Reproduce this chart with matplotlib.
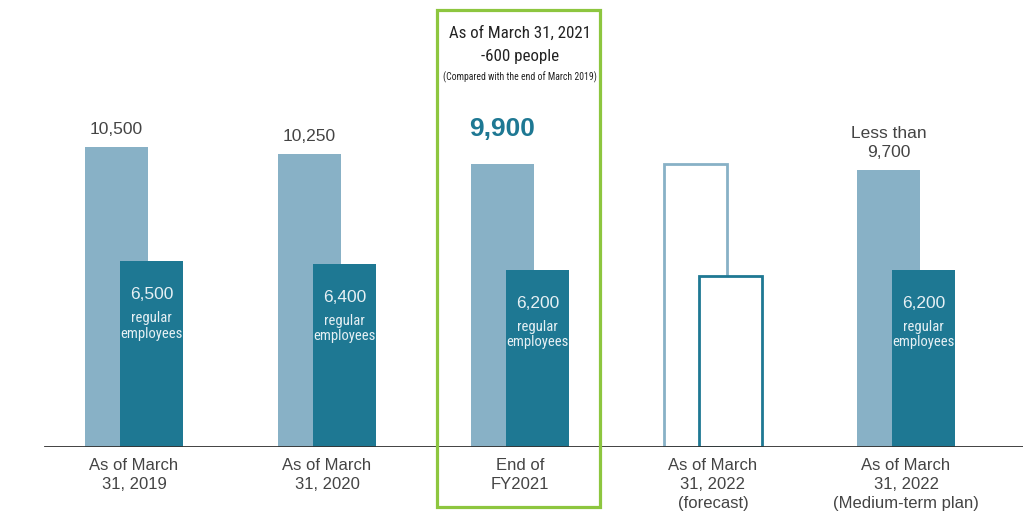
import matplotlib.pyplot as plt
from matplotlib.patches import Rectangle
from matplotlib.transforms import blended_transform_factory

# data
categories = ['As of March\n31, 2019', 'As of March\n31, 2020', 'End of\nFY2021',
              'As of March\n31, 2022\n(forecast)', 'As of March\n31, 2022\n(Medium-term plan)']
total = [10500, 10250, 9900, 9900, 9700]
regular = [6500, 6400, 6200, 6000, 6200]
is_forecast = [False, False, False, True, False]
total_labels = ['10,500', '10,250', '9,900', '', 'Less than\n9,700']
regular_labels = ['6,500', '6,400', '6,200', '', '6,200']

light = '#88b1c6'
dark = '#1e7893'
gray = '#444444'
green = '#8dc63f'
narrow = ['Roboto Condensed', 'DejaVu Sans']

plt.rcParams['font.family'] = ['Liberation Sans', 'DejaVu Sans']

fig = plt.figure(figsize=(10.23, 5.13), dpi=100)
ax = fig.add_axes([0, 66 / 513, 1, 447 / 513])

w = 0.326
off = 0.0907
x = list(range(len(categories)))

for i in x:
    if is_forecast[i]:
        ax.bar(i - off, total[i], w, facecolor='white', edgecolor=light, linewidth=2.0, zorder=2)
        ax.bar(i + off, regular[i], w, facecolor='white', edgecolor=dark, linewidth=2.0, zorder=3)
    else:
        ax.bar(i - off, total[i], w, color=light, zorder=2)
        ax.bar(i + off, regular[i], w, color=dark, zorder=3)

    # total labels above light bars
    if i == 2:
        ax.annotate(total_labels[i], (i - off, total[i]), xytext=(0, 17), textcoords='offset points',
                    ha='center', va='bottom', fontsize=19, fontweight='bold', color=dark)
    elif total_labels[i]:
        ax.annotate(total_labels[i], (i - off, total[i]), xytext=(0, 7), textcoords='offset points',
                    ha='center', va='bottom', fontsize=12.5, color=gray, linespacing=1.35)

    # labels inside dark bars
    if regular_labels[i]:
        ax.annotate(regular_labels[i], (i + off, regular[i]), xytext=(0, -24), textcoords='offset points',
                    ha='center', va='center', fontsize=12.5, color='#e6f0f4')
        ax.annotate('regular', (i + off, regular[i]), xytext=(0, -41), textcoords='offset points',
                    ha='center', va='center', fontsize=10.5, color='#e6f0f4', family=narrow)
        ax.annotate('employees', (i + off, regular[i]), xytext=(0, -52), textcoords='offset points',
                    ha='center', va='center', fontsize=10.5, color='#e6f0f4', family=narrow)

ax.set_xlim(-134 / 193, (1023 - 134) / 193)
ax.set_ylim(0, 447 * 35)

for s in ax.spines.values():
    s.set_visible(False)
ax.set_yticks([])
ax.set_xticks(x)
ax.set_xticklabels(categories, fontsize=12, color=gray)
ax.tick_params(axis='x', length=0, pad=8)
for t in ax.get_xticklabels():
    t.set_linespacing(1.32)

ax.axhline(0, xmin=45 / 1023, xmax=1, color='#333333', linewidth=1.3, zorder=4)

# highlight box around FY2021
fig.patches.append(Rectangle((437 / 1023, 6 / 513), 163 / 1023, 497 / 513, transform=fig.transFigure,
                             fill=False, edgecolor=green, linewidth=2.3))
tr = blended_transform_factory(ax.transData, fig.transFigure)
fig.text(2, 1 - 33 / 513, 'As of March 31, 2021', transform=tr, ha='center', va='center',
         fontsize=12.2, color='#222222', family=narrow)
fig.text(2, 1 - 57 / 513, '-600 people', transform=tr, ha='center', va='center',
         fontsize=12.2, color='#222222', family=narrow)
fig.text(2, 1 - 77 / 513, '(Compared with the end of March 2019)', transform=tr, ha='center',
         va='center', fontsize=7, color='#222222', family=narrow)

fig.savefig('out.png', dpi=100)
